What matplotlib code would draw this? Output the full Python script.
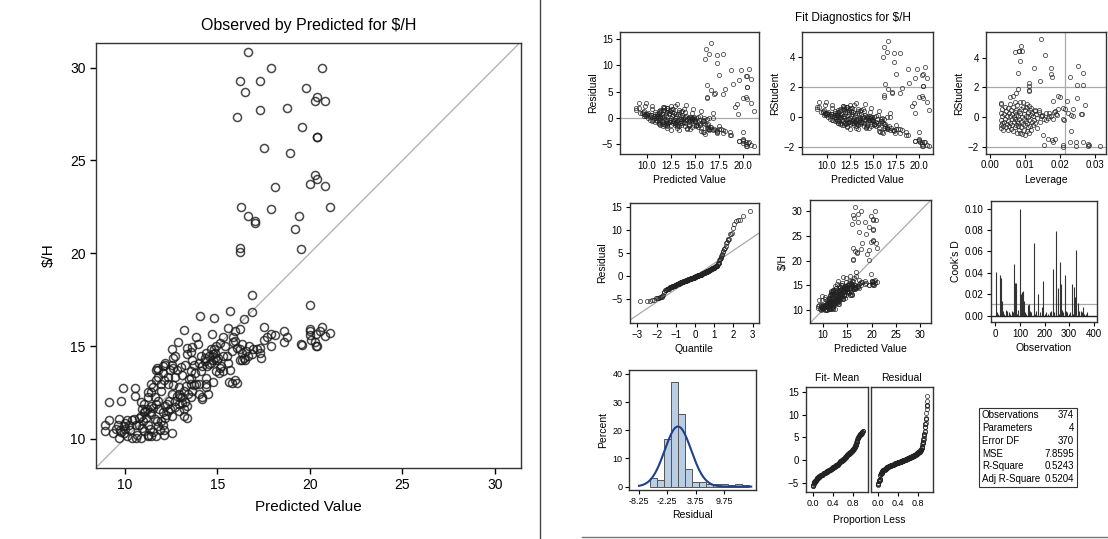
"""
Observed vs predicted plus the SAS fit-diagnostics panel for $/H
"""
from statistics import NormalDist

import matplotlib
import matplotlib.pyplot as plt
import numpy as np
from matplotlib import font_manager as fm
from matplotlib.lines import Line2D
from matplotlib.patches import Rectangle

matplotlib.use("Agg")

W, H = 1108, 539

# predicted value / observed $/H
predicted = [
    16.65, 17.90, 20.65, 16.20, 17.30, 16.50, 19.80, 20.37, 20.28, 20.83, 17.28, 18.74, 16.09, 19.56,
    20.39, 20.40, 17.52, 18.93, 20.28, 20.39, 19.98, 20.83, 18.13, 16.26, 17.89, 21.11, 19.41, 16.67,
    17.04, 17.02, 19.17, 16.24, 16.22, 19.52, 16.89, 16.87, 19.98, 16.46, 15.67, 14.09, 14.81,
    17.52, 18.09, 17.89, 17.70, 17.50, 17.90, 18.60, 18.60, 18.78, 17.30, 17.35, 17.31, 16.94, 16.55,
    19.56, 19.54, 20.00, 20.02, 20.00, 20.31, 20.65, 20.80, 21.09, 20.28, 20.41, 20.33, 20.56, 20.04,
    15.57, 15.93, 16.24, 15.87, 15.87, 16.06, 16.33, 16.46, 16.35, 16.65, 16.24, 15.80, 15.50, 15.56,
    15.69, 15.31, 15.95, 15.65, 15.15, 15.09, 14.94, 15.39, 14.80, 14.57, 14.67, 14.33, 14.39, 14.11,
    14.02, 14.20, 14.76, 14.87, 14.44, 14.70, 15.30, 13.87, 13.98, 13.65, 13.19, 12.90, 12.54, 12.69,
    13.37, 13.65, 13.28, 13.76, 13.57, 14.11, 14.39, 14.00, 14.39, 14.52, 14.20, 13.56, 13.65, 13.43,
    13.19, 13.00, 13.28, 12.91, 13.19, 13.37, 13.19, 12.72, 12.91, 12.72, 13.09, 12.44, 12.17, 11.80,
    12.09, 12.13, 12.35, 11.98, 11.70, 11.52, 11.43, 11.24, 11.06, 10.91, 11.20, 11.43, 11.70, 11.83,
    12.06, 12.35, 12.54, 12.17, 11.98, 11.61, 11.43, 11.15, 10.87, 11.24, 10.96, 11.24, 11.24, 11.67,
    12.13, 12.13, 11.89, 11.80, 10.69, 10.59, 10.37, 10.13, 9.70, 9.94, 9.76, 9.94, 9.63, 9.35,
    8.93, 8.93, 9.17, 9.70, 10.13, 10.41, 10.59, 10.31, 10.78, 9.17, 9.81, 9.91, 10.56, 10.56,
    10.87, 11.24, 11.43, 11.70, 11.76, 12.07, 12.54, 12.63, 12.81, 13.06, 12.63, 12.17, 12.35, 11.80,
    11.98, 12.91, 13.09, 13.37, 13.56, 13.74, 13.83, 14.39, 14.02, 14.76, 14.94, 14.98, 15.22, 15.31,
    14.20, 13.78, 16.06, 15.80, 13.56, 13.37, 16.24, 16.52, 16.89, 17.17, 16.70, 16.33, 15.96, 15.13,
    11.43, 11.06, 12.54, 12.07, 10.87, 9.80, 10.04, 10.50, 11.06, 11.61, 11.80, 12.17, 12.41, 12.54,
    12.63, 11.10, 11.35, 11.55, 12.25, 12.45, 11.00, 10.75, 10.25, 10.00, 9.55, 14.55, 14.75, 14.35,
    14.65, 14.90, 15.05, 13.45, 13.30, 13.60, 12.85, 12.70, 12.30, 12.95, 13.10, 11.35, 11.55, 11.75,
]
observed = [
    30.83, 30.00, 29.96, 29.25, 29.30, 28.66, 28.90, 28.40, 28.20, 28.20, 27.70, 27.83, 27.33, 26.80,
    26.26, 26.25, 25.68, 25.40, 24.20, 23.98, 23.73, 23.63, 23.58, 22.47, 22.38, 22.50, 22.03, 22.00,
    21.76, 21.60, 21.30, 20.30, 20.05, 20.20, 17.73, 16.83, 17.21, 16.48, 16.90, 16.59, 16.53,
    16.00, 15.60, 15.65, 15.50, 15.30, 15.00, 15.83, 15.24, 15.46, 14.63, 14.36, 14.88, 14.82, 14.73,
    15.05, 15.10, 15.92, 15.80, 15.60, 15.65, 16.00, 15.56, 15.69, 15.22, 15.00, 14.98, 15.83, 15.30,
    15.96, 15.81, 15.92, 15.46, 15.20, 14.90, 14.63, 14.36, 14.27, 14.45, 14.86, 14.73, 14.45, 14.10,
    13.72, 13.63, 13.17, 13.07, 13.81, 13.53, 15.00, 15.00, 14.82, 14.45, 14.10, 14.36, 14.63, 14.45,
    14.10, 13.90, 14.27, 14.36, 13.90, 15.65, 15.46, 15.46, 15.13, 14.97, 15.87, 15.20, 14.82, 14.45,
    14.88, 14.27, 14.00, 14.00, 13.63, 13.63, 13.26, 12.98, 12.80, 12.43, 12.25, 12.98, 12.60, 12.43,
    12.60, 12.25, 11.97, 11.88, 11.60, 11.14, 11.23, 11.70, 12.78, 13.34, 13.44, 13.72, 14.08, 13.72,
    13.53, 13.17, 12.98, 12.60, 13.17, 12.78, 12.50, 12.25, 11.88, 11.60, 11.60, 11.79, 11.88, 11.60,
    11.42, 11.50, 11.23, 11.14, 10.96, 11.05, 11.33, 11.14, 11.23, 10.77, 10.59, 10.22, 10.13, 10.13,
    10.22, 10.49, 10.49, 10.68, 10.22, 10.04, 10.04, 10.13, 10.04, 10.31, 10.49, 10.68, 10.77, 10.31,
    10.40, 10.77, 10.99, 11.05, 10.99, 10.99, 10.77, 10.49, 10.77, 12.00, 12.06, 12.76, 12.74, 12.30,
    11.97, 12.50, 12.98, 13.72, 13.80, 13.90, 14.00, 13.80, 13.72, 13.85, 14.37, 14.00, 13.34, 13.34,
    12.98, 12.43, 12.25, 11.79, 12.25, 12.89, 12.98, 12.98, 12.43, 13.07, 13.63, 14.27, 13.90, 14.45,
    12.15, 13.53, 13.02, 13.00, 14.70, 14.55, 14.27, 14.27, 14.55, 14.82, 15.00, 15.10, 15.28, 15.15,
    10.13, 10.40, 10.31, 10.77, 10.04, 10.36, 10.86, 11.05, 11.42, 12.25, 12.06, 11.79, 12.06, 12.43,
    12.89, 11.50, 11.45, 11.65, 11.30, 11.60, 10.95, 11.10, 10.75, 10.55, 10.55, 14.05, 14.55, 14.20,
    14.85, 14.60, 14.35, 13.20, 12.85, 13.30, 12.30, 12.05, 11.85, 11.50, 11.95, 10.55, 10.35, 10.95,
]

# leverage / rstudent pairs
leverage = [
    0.01457, 0.0070, 0.00815, 0.0089, 0.0084, 0.0091, 0.0087, 0.0159, 0.0079, 0.0125, 0.0176, 0.0176,
    0.0177, 0.0144, 0.0112, 0.0112, 0.0113, 0.0112, 0.0229, 0.0253, 0.0267, 0.0249, 0.0266, 0.0250,
    0.0273, 0.0262, 0.0264, 0.0237, 0.0232, 0.0223, 0.0216, 0.0221, 0.0208, 0.0201, 0.0195, 0.0181,
    0.0184, 0.0192, 0.0210, 0.0211, 0.0232, 0.0239, 0.0169, 0.0160, 0.0136, 0.0151, 0.0156, 0.0165,
    0.0177, 0.0187, 0.0182, 0.0210, 0.0210, 0.0229, 0.0246, 0.0246, 0.0266, 0.0281, 0.0284, 0.0315,
    0.0281, 0.0141, 0.0149, 0.0129,
    0.0030, 0.0030, 0.0032, 0.0030, 0.0031, 0.0032, 0.0033, 0.0034, 0.0035, 0.0036, 0.0038, 0.0040,
    0.0040, 0.0042, 0.0043, 0.0045, 0.0045, 0.0047, 0.0048, 0.0050, 0.0050, 0.0052, 0.0053, 0.0055,
    0.0056, 0.0057, 0.0058, 0.0058, 0.0060, 0.0060, 0.0062, 0.0063, 0.0064, 0.0065, 0.0066, 0.0067,
    0.0068, 0.0069, 0.0070, 0.0070, 0.0071, 0.0072, 0.0073, 0.0074, 0.0075, 0.0075, 0.0076, 0.0077,
    0.0078, 0.0079, 0.0080, 0.0080, 0.0081, 0.0082, 0.0083, 0.0084, 0.0085, 0.0086, 0.0087, 0.0088,
    0.0089, 0.0090, 0.0091, 0.0092, 0.0093, 0.0094, 0.0095, 0.0096, 0.0097, 0.0098, 0.0099, 0.0100,
    0.0101, 0.0102, 0.0103, 0.0104, 0.0105, 0.0106, 0.0107, 0.0108, 0.0109, 0.0110, 0.0111, 0.0112,
    0.0113, 0.0114, 0.0115, 0.0116, 0.0117, 0.0118, 0.0119, 0.0120, 0.0122, 0.0124, 0.0126, 0.0128,
    0.0130, 0.0133, 0.0136, 0.0139, 0.0142, 0.0145, 0.0150, 0.0155, 0.0160, 0.0165, 0.0170, 0.0175,
    0.0180, 0.0185, 0.0190, 0.0195,
]
lev_rstudent = [
    5.28, 4.40, 4.43, 4.81, 4.43, 4.43, 3.80, 4.16, 2.99, 3.30, 3.30, 2.92,
    2.70, 2.40, 2.29, 2.11, 1.84, 1.73, 2.70, 3.44, 2.97, 2.18, 2.13, 1.28,
    0.81, 0.22, 0.22, 0.54, 0.16, 0.27, 0.54, 1.06, 0.61, 1.35, 1.39, 1.06,
    0.31, 0.16, -0.13, -0.18, -0.97, 0.04, 0.04, -0.18, -0.74, -1.19, -1.87, -1.46,
    -1.53, -1.46, -1.69, -1.87, -1.98, -1.71, -1.71, -1.93, -1.71, -1.80, -1.89, -1.93,
    -1.93, 0.49, 0.16, 0.38,
    0.85, 0.95, 0.30, -0.20, -0.55, -0.75, -0.40, 0.10, 0.55, -0.85, -0.60, 0.20,
    -0.30, 0.70, -0.10, 0.40, -0.70, -0.45, 0.05, 0.60, -0.90, -0.25, 0.30, -0.60,
    0.85, 0.10, -0.40, 1.35, -0.80, 0.45, -0.15, 0.20, -0.55, 1.45, 0.65, -0.95,
    0.00, -0.35, 0.35, 1.00, -0.70, -0.10, 0.50, -0.50, 1.60, 0.15, -1.05, -0.25,
    0.80, -0.60, 1.90, 0.05, -0.40, 0.40, -0.85, -0.15, 1.00, 0.25, -1.10, -0.30,
    0.55, -0.65, 0.00, -1.15, 0.70, -0.45, 1.00, 0.20, -0.85, -0.10, 0.45, -1.20,
    -0.55, 0.65, -0.25, 0.10, 0.85, -0.95, -0.40, 0.35, -0.70, 0.00, 0.75, -1.10,
    -0.20, 0.45, -0.60, 0.15, 0.60, -0.85, -0.30, 0.30, -0.50, 0.10, -0.20, 0.45,
    -0.40, 0.20, -0.05, 0.35, -0.30, 0.10, 0.05, -0.15, 0.25, -0.05, 0.30, 0.10,
    -0.10, 0.40, 0.20, 0.55,
]

# Cook's D spikes by observation number
cooks_obs = [
    3, 20, 22, 25, 42, 49, 75, 79, 83, 99, 102, 105, 108, 113, 115, 131, 135, 155, 175, 188, 195,
    221, 234, 245, 248, 254, 264, 265, 270, 281, 290, 311, 320, 324, 327, 336, 347, 356, 367,
    8, 12, 30, 35, 55, 60, 66, 70, 88, 92, 120, 125, 140, 145, 160, 165, 180, 200, 205, 212,
    228, 240, 258, 275, 285, 298, 305, 315, 340, 352, 362, 372,
]
cooks_d = [
    0.041, 0.038, 0.035, 0.014, 0.005, 0.004, 0.048, 0.031, 0.031, 0.100, 0.014, 0.020, 0.022,
    0.023, 0.014, 0.010, 0.011, 0.068, 0.020, 0.008, 0.032, 0.003, 0.044, 0.018, 0.079, 0.026,
    0.050, 0.030, 0.005, 0.038, 0.003, 0.030, 0.027, 0.017, 0.061, 0.012, 0.004, 0.008, 0.002,
    0.003, 0.002, 0.004, 0.002, 0.003, 0.002, 0.004, 0.003, 0.002, 0.005, 0.003, 0.002, 0.004,
    0.003, 0.002, 0.004, 0.003, 0.002, 0.003, 0.002, 0.004, 0.003, 0.002, 0.003, 0.004, 0.002,
    0.003, 0.002, 0.004, 0.003, 0.002, 0.003,
]

# residual histogram (percent per 1.5-wide bin, first bin starts at -6)
hist_left = [-6.0, -4.5, -3.0, -1.5, 0.0, 1.5, 3.0, 4.5, 6.0, 7.5, 9.0, 10.5, 12.0, 13.5]
hist_pct = [3.2, 2.4, 16.9, 37.3, 25.7, 6.4, 1.5, 1.5, 0.9, 0.9, 1.0, 0.6, 0.9, 0.5]

stats_names = ["Observations", "Parameters", "Error DF", "MSE", "R-Square", "Adj R-Square"]
stats_vals = ["374", "4", "370", "7.8595", "0.5243", "0.5204"]
n_obs, n_parm, mse = 374, 4, 7.8595

# fonts: narrow sans like the SAS output
names = {f.name for f in fm.fontManager.ttflist}
base = "Liberation Sans Narrow" if "Liberation Sans Narrow" in names else "Liberation Sans"
plt.rcParams["font.family"] = [base, "DejaVu Sans"]
plt.rcParams["axes.linewidth"] = 1.0
plt.rcParams["axes.edgecolor"] = "#333333"
plt.rcParams["xtick.direction"] = "out"
plt.rcParams["ytick.direction"] = "out"

pred = np.array(predicted)
obs = np.array(observed)
resid = obs - pred
s = np.sqrt(mse)
rstud = resid / s

fig = plt.figure(figsize=(W / 100, H / 100), dpi=100)


def add_ax(l, r, t, b):
    return fig.add_axes([l / W, 1 - b / H, (r - l) / W, (b - t) / H])


def small(ax, xlabel, ylabel, tsize=7):
    ax.tick_params(labelsize=tsize, length=3, width=0.8, pad=2)
    ax.set_xlabel(xlabel, fontsize=7.5, labelpad=3)
    ax.set_ylabel(ylabel, fontsize=7.5, labelpad=3)


circ = dict(marker="o", ls="none", mfc="none", mec="#222222", ms=3.0, mew=0.6, alpha=0.8)

# ---- left: observed by predicted ----
ax = add_ax(96, 521, 42.5, 467.6)
ax.plot([8.45, 31.4], [8.45, 31.4], color="#b5b5b5", lw=1.0, zorder=1)
ax.plot(pred, obs, marker="o", ls="none", mfc="none", mec="#1a1a1a", ms=5.8, mew=1.1, alpha=0.8)
ax.set_xlim(8.45, 31.4)
ax.set_ylim(8.45, 31.35)
ax.set_xticks([10, 15, 20, 25, 30])
ax.set_yticks([10, 15, 20, 25, 30])
ax.tick_params(labelsize=10, length=4, width=1)
ax.set_xlabel("Predicted Value", fontsize=11, labelpad=6)
ax.set_ylabel(r"\$/H", fontsize=11, labelpad=10)
ax.set_title(r"Observed by Predicted for \$/H", fontsize=11.5, pad=9)

# ---- right: fit diagnostics ----
fig.text(853 / W, 1 - 18 / H, r"Fit Diagnostics for \$/H", fontsize=8.5, ha="center", va="center")

# residual vs predicted
ax = add_ax(620, 759, 32.3, 154)
ax.axhline(0, color="#aaaaaa", lw=0.9)
ax.plot(pred, resid, **circ)
ax.set_xlim(7.25, 21.65)
ax.set_ylim(-6.9, 16.3)
ax.set_xticks([10, 12.5, 15, 17.5, 20])
ax.set_xticklabels(["10.0", "12.5", "15.0", "17.5", "20.0"])
ax.set_yticks([-5, 0, 5, 10, 15])
small(ax, "Predicted Value", "Residual")

# rstudent vs predicted
ax = add_ax(802, 933, 32.3, 154)
for yv in (-2, 2):
    ax.axhline(yv, color="#aaaaaa", lw=0.9)
ax.plot(pred, rstud, **circ)
ax.set_xlim(7.3, 21.5)
ax.set_ylim(-2.47, 5.67)
ax.set_xticks([10, 12.5, 15, 17.5, 20])
ax.set_xticklabels(["10.0", "12.5", "15.0", "17.5", "20.0"])
ax.set_yticks([-2, 0, 2, 4])
small(ax, "Predicted Value", "RStudent")

# rstudent vs leverage
ax = add_ax(986, 1106, 32.3, 153.5)
for yv in (-2, 2):
    ax.axhline(yv, color="#aaaaaa", lw=0.9)
ax.axvline(2 * n_parm / n_obs, color="#aaaaaa", lw=0.9)
ax.plot(leverage, lev_rstudent, **circ)
ax.set_xlim(-0.0012, 0.0333)
ax.set_ylim(-2.45, 5.7)
ax.set_xticks([0, 0.01, 0.02, 0.03])
ax.set_xticklabels(["0.00", "0.01", "0.02", "0.03"])
ax.set_yticks([-2, 0, 2, 4])
small(ax, "Leverage", "RStudent")

# residual normal quantile plot
ax = add_ax(629.5, 759, 203, 322.7)
n = len(resid)
quant = np.array([NormalDist().inv_cdf((i + 1 - 0.375) / (n + 0.25)) for i in range(n)])
ax.plot([-3.41, 3.33], [-3.41 * s, 3.33 * s], color="#aaaaaa", lw=0.9)
ax.plot(quant, np.sort(resid), **circ)
ax.set_xlim(-3.41, 3.33)
ax.set_ylim(-10.07, 15.87)
ax.set_xticks([-3, -2, -1, 0, 1, 2, 3])
ax.set_yticks([-5, 0, 5, 10, 15])
small(ax, "Quantile", "Residual")

# observed vs predicted, small
ax = add_ax(809.6, 931, 200, 323)
ax.plot([7.3, 32.2], [7.3, 32.2], color="#aaaaaa", lw=0.9)
ax.plot(pred, obs, **circ)
ax.set_xlim(7.3, 32.2)
ax.set_ylim(7.4, 32.2)
ax.set_xticks([10, 15, 20, 25, 30])
ax.set_yticks([10, 15, 20, 25, 30])
small(ax, "Predicted Value", r"\$/H")

# cook's d
ax = add_ax(990.5, 1097, 201, 321.7)
ax.axhline(4 / n_obs, color="#aaaaaa", lw=0.9)
ax.vlines(cooks_obs, 0, cooks_d, color="#333333", lw=0.8)
ax.axhline(0, color="#222222", lw=1.0)
ax.set_xlim(-20, 413)
ax.set_ylim(-0.0056, 0.1071)
ax.set_xticks([0, 100, 200, 300, 400])
ax.set_yticks([0, 0.02, 0.04, 0.06, 0.08, 0.10])
ax.set_yticklabels(["0.00", "0.02", "0.04", "0.06", "0.08", "0.10"])
small(ax, "Observation", "Cook's D")

# residual histogram with normal curve
ax = add_ax(629.3, 755.7, 370, 490)
ax.bar(hist_left, hist_pct, width=1.5, align="edge", color="#b9cde5", edgecolor="#555555", lw=0.7)
xs = np.linspace(-8.25, 15.5, 200)
ax.plot(xs, [NormalDist(0, s).pdf(v) * 1.5 * 100 for v in xs], color="#1f3f8f", lw=1.5)
ax.set_xlim(-10.3, 16.45)
ax.set_ylim(-1.2, 41.4)
ax.set_xticks([-8.25, -2.25, 3.75, 9.75])
ax.set_xticklabels(["-8.25", "-2.25", "3.75", "9.75"])
ax.set_yticks([0, 10, 20, 30, 40])
small(ax, "Residual", "Percent", tsize=6.5)

# residual-fit spread
fit_mean = np.sort(pred - obs.mean())
res_sorted = np.sort(resid)
prop = (np.arange(n) + 0.5) / n
ax1 = add_ax(805.7, 868.3, 386.7, 491.7)
ax2 = add_ax(870.7, 933, 386.7, 491.7)
for a, vals, ttl in ((ax1, fit_mean, "Fit- Mean"), (ax2, res_sorted, "Residual")):
    a.plot(prop, vals, **circ)
    a.set_xlim(-0.14, 1.11)
    a.set_ylim(-7.0, 16.24)
    a.set_xticks([0, 0.4, 0.8])
    a.set_xticklabels(["0.0", "0.4", "0.8"])
    a.set_yticks([-5, 0, 5, 10, 15])
    a.tick_params(labelsize=6.5, length=3, width=0.8, pad=2)
    a.set_title(ttl, fontsize=7.5, pad=4)
ax1.tick_params(axis="y", labelsize=7)
ax2.tick_params(axis="y", length=0, labelleft=False)
fig.text(869 / W, 1 - 520 / H, "Proportion Less", fontsize=7.5, ha="center", va="center")

# fit statistics table
fig.add_artist(Rectangle((979.3 / W, 1 - 487 / H), (1077 - 979.3) / W, (487 - 408) / H,
                         transform=fig.transFigure, fill=False, ec="#333333", lw=0.8))
for i, (nm, vv) in enumerate(zip(stats_names, stats_vals)):
    yy = 1 - (415.5 + i * 12.7) / H
    fig.text(982 / W, yy, nm, fontsize=7, ha="left", va="center")
    fig.text(1074 / W, yy, vv, fontsize=7, ha="right", va="center")

# separators
fig.add_artist(Line2D([540 / W, 540 / W], [0, 1], color="#444444", lw=1.0))
fig.add_artist(Line2D([582 / W, 1], [1 - 537 / H, 1 - 537 / H], color="#777777", lw=1.0))

fig.savefig("out.png", dpi=100)
plt.close(fig)
